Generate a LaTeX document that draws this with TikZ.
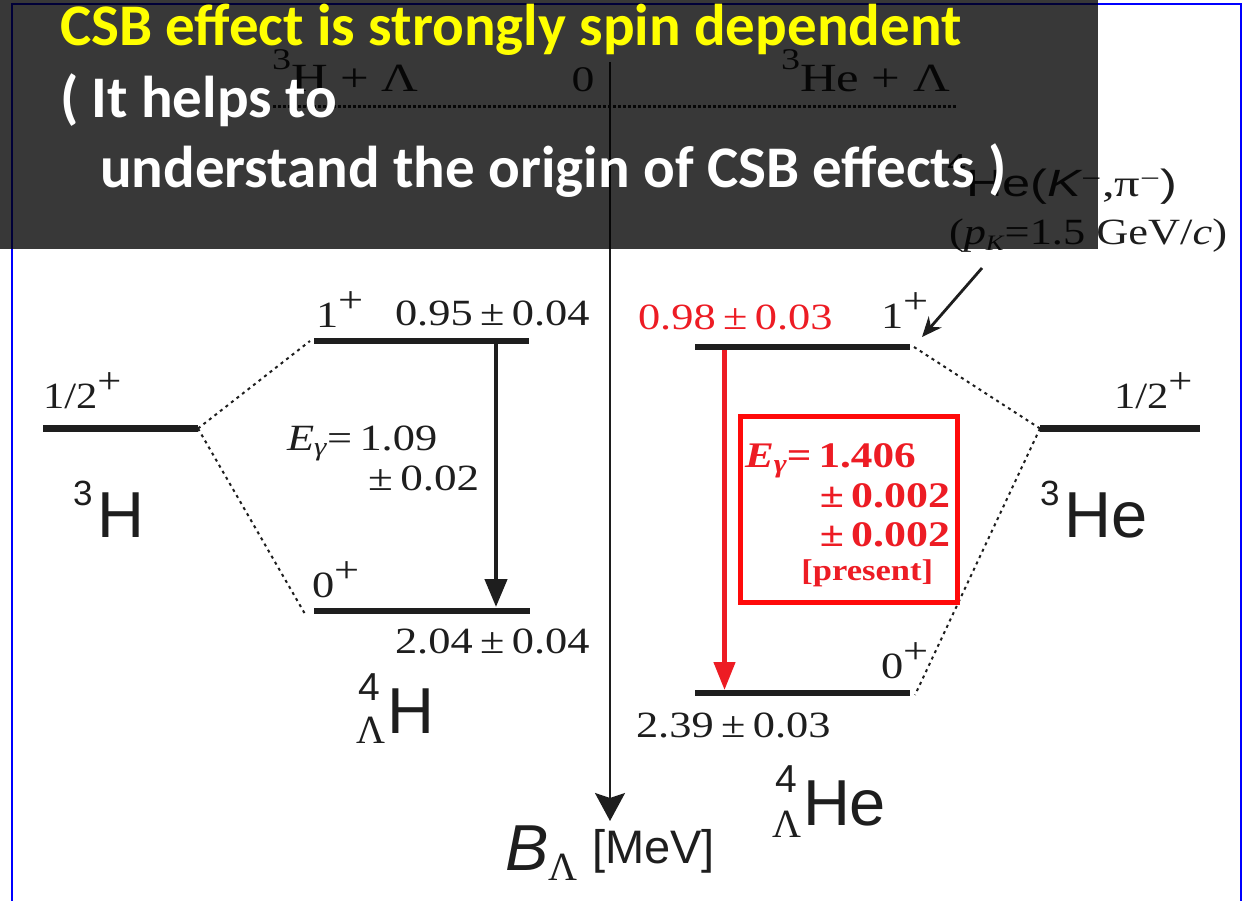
\documentclass[tikz,border=0pt]{standalone}
\usepackage{fontspec}
\usepackage{graphicx}
\usetikzlibrary{arrows.meta}
\setmainfont{Liberation Serif}
\newfontfamily\arialf{Liberation Sans}
\newfontfamily\calib{Carlito}
\definecolor{pRed}{HTML}{ED1C24}
\definecolor{boxRed}{HTML}{FF0A0A}
\definecolor{lvl}{HTML}{1E1E1E}
\definecolor{frameBlue}{HTML}{0000FF}
\definecolor{ovYellow}{HTML}{FFFF00}
\newcommand{\fs}[1]{\fontsize{#1}{#1}\selectfont}
\newcommand{\hsx}[2]{\scalebox{#1}[1]{#2}}
\newcommand{\gsub}{\raisebox{-5pt}{\fs{26}\textit{γ}}}
\begin{document}
\begin{tikzpicture}[x=1pt,y=-1pt,
  lab/.style={inner sep=0pt, outer sep=0pt, anchor=base west, font=\fs{37}, text=lvl},
  labE/.style={lab, anchor=base east},
  sanslab/.style={inner sep=0pt, outer sep=0pt, anchor=base west, text=lvl},
  level/.style={line width=6.5pt, draw=lvl},
  dotl/.style={line width=2pt, draw=lvl, dash pattern=on 3pt off 4pt},
  topdot/.style={line width=3pt, draw=lvl, dash pattern=on 2.6pt off 2.4pt},
  ovl/.style={inner sep=0pt, outer sep=0pt, anchor=base west, font=\calib\bfseries\fs{59}}
]
\path[use as bounding box] (0,0) rectangle (1242,901);
\fill[white] (0,0) rectangle (1242,901);
% frame
\coordinate (fA) at (12,910);
\coordinate (fB) at (12,4);
\coordinate (fC) at (1241,4);
\coordinate (fD) at (1241,910);
\draw[frameBlue, line width=2pt] (fA) -- (fB) -- (fC) -- (fD);

% threshold line
\coordinate (dA) at (273,107);
\coordinate (dB) at (957,107);
\draw[topdot] (dA) -- (dB);
\node[lab, font=\fs{40}] (tHL) at (272,92) {\hsx{1.27}{\raisebox{22pt}{\fs{30}3}H + Λ}};
\node[lab, anchor=base, font=\fs{36}] (t0) at (583,92) {\hsx{1.27}{0}};
\node[lab, font=\fs{40}] (tHeL) at (781,92) {\hsx{1.27}{\raisebox{22pt}{\fs{30}3}He + Λ}};

% axis
\coordinate (axT) at (610,62);
\coordinate (axB) at (610,821);
\draw[line width=2.2pt, draw=lvl, -{Stealth[length=28pt,width=30pt,inset=5pt]}] (axT) -- (axB);
\node[sanslab] (nB) at (505,870) {{\arialf\itshape\fs{65}B}\raisebox{-10pt}{\fs{40}Λ}};
\node[sanslab] (nMeV) at (592,863) {\arialf\fs{47}[MeV]};

% levels left
\coordinate (h3a) at (43,428.5);
\coordinate (h3b) at (198,428.5);
\coordinate (c1a) at (314,341);
\coordinate (c1b) at (529,341);
\coordinate (c0a) at (314,611);
\coordinate (c0b) at (530,611);
\draw[level] (h3a) -- (h3b);
\draw[level] (c1a) -- (c1b);
\draw[level] (c0a) -- (c0b);
\draw[dotl] (h3b) -- ([xshift=-4pt]c1a);
\draw[dotl] (h3b) -- ([xshift=-9pt,yshift=-3pt]c0a);

% levels right
\coordinate (e1a) at (695,347);
\coordinate (e1b) at (910,347);
\coordinate (e0a) at (695,693);
\coordinate (e0b) at (910,693);
\coordinate (he3a) at (1040,428.5);
\coordinate (he3b) at (1200,428.5);
\draw[level] (e1a) -- (e1b);
\draw[level] (e0a) -- (e0b);
\draw[level] (he3a) -- (he3b);
\draw[dotl] ([xshift=4pt]e1b) -- (he3a);
\draw[dotl] (he3a) -- ([xshift=5pt,yshift=-2pt]e0b);

% gamma arrows
\coordinate (gA) at (496,344);
\coordinate (gB) at (496,607);
\draw[line width=4.5pt, draw=lvl, -{Triangle[length=28pt,width=22pt]}] (gA) -- (gB);
\coordinate (rA) at (724.5,350);
\coordinate (rB) at (724.5,690);
\draw[line width=4.5pt, draw=pRed, -{Triangle[length=28pt,width=21pt]}] (rA) -- (rB);

% K arrow
\coordinate (kS) at (982,268);
\coordinate (kT) at (922,337);
\draw[line width=2.8pt, draw=lvl, -{Stealth[length=20pt,width=17pt]}] (kS) -- (kT);

% left labels
\node[lab] (jL) at (43,408) {\hsx{1.15}{1/2\raisebox{15pt}{+}}};
\node[lab] (l1p) at (316,327) {\hsx{1.2}{1\raisebox{15pt}{+}}};
\node[lab] (l1v) at (395,325) {\hsx{1.2}{0.95\,±\,0.04}};
\node[lab] (l0p) at (312,597) {\hsx{1.2}{0\raisebox{15pt}{+}}};
\node[lab] (l0v) at (395,653) {\hsx{1.2}{2.04\,±\,0.04}};
\node[lab] (lEg) at (287,450) {\hsx{1.2}{\textit{E}\gsub=\,1.09}};
\node[lab] (lEe) at (368,490) {\hsx{1.22}{±\,0.02}};

% right labels
\node[lab, text=pRed] (r1v) at (638,330) {\hsx{1.2}{0.98\,±\,0.03}};
\node[lab] (r1p) at (881,328) {\hsx{1.2}{1\raisebox{15pt}{+}}};
\node[lab] (r0p) at (881,678) {\hsx{1.2}{0\raisebox{15pt}{+}}};
\node[lab] (r0v) at (636,737) {\hsx{1.2}{2.39\,±\,0.03}};
\node[lab] (jR) at (1114,408) {\hsx{1.15}{1/2\raisebox{15pt}{+}}};

% red box
\node[draw=boxRed, line width=4.5pt, minimum width=217pt, minimum height=186pt, inner sep=0pt] (rbox) at (849,509.5) {};
\node[lab, text=pRed, font=\bfseries\fs{36}] (rEg) at (745,467) {\hsx{1.2}{\textit{E}\gsub=\,1.406}};
\node[labE, text=pRed, font=\bfseries\fs{36}] (rE1) at (950,507) {\hsx{1.22}{±\,0.002}};
\node[labE, text=pRed, font=\bfseries\fs{36}] (rE2) at (950,546) {\hsx{1.22}{±\,0.002}};
\node[labE, text=pRed, font=\bfseries\fs{30}] (rPr) at (933,580) {\hsx{1.15}{[present]}};

% reaction label
\node[lab, font=\fs{38}] (reac) at (947,197) {\hsx{1.33}{\raisebox{24pt}{\arialf\fs{26}4}{\arialf He(}{\arialf\itshape K}\textsuperscript{−},π\textsuperscript{−}{\arialf )}}};
\node[lab] (pk) at (949,245) {\hsx{1.2}{(\textit{p}\raisebox{-6pt}{\fs{22}\textit{K}}=1.5 GeV/\textit{c})}};

% nuclide names
\node[sanslab] (n3H) at (73,537) {\arialf\raisebox{32pt}{\fs{35}3}\hspace{5pt}\fs{65}H};
\node[sanslab] (n3He) at (1040,537) {\arialf\raisebox{32pt}{\fs{35}3}\hspace{5pt}\fs{65}He};
\node[sanslab] (n4H) at (356,733) {\makebox[0pt][l]{\hspace{2pt}\raisebox{33pt}{\arialf\fs{39}4}}\raisebox{-10pt}{\fs{40}Λ}\hspace{2pt}{\arialf\fs{65}H}};
\node[sanslab] (n4He) at (772,825) {\makebox[0pt][l]{\hspace{3pt}\raisebox{33pt}{\arialf\fs{39}4}}\raisebox{-12pt}{\fs{40}Λ}\hspace{2pt}{\arialf\fs{65}He}};

% overlay
\fill[black, fill opacity=0.78] (0,0) rectangle (1098,249);
\node[ovl, text=ovYellow] (o1) at (60,46) {CSB effect is strongly spin dependent};
\node[ovl, text=white] (o2) at (60,118) {( It helps to};
\node[ovl, text=white] (o3) at (100,188) {understand the origin of CSB effects )};
\end{tikzpicture}
\end{document}
